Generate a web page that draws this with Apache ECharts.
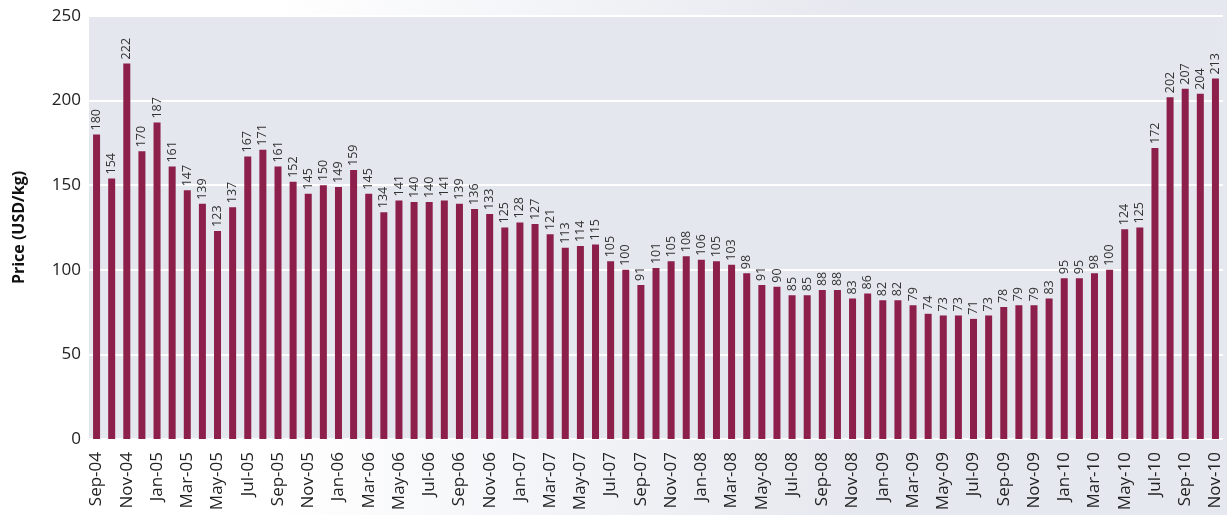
<!DOCTYPE html>
<html>
<head>
<meta charset="utf-8">
<script src="https://cdn.jsdelivr.net/npm/echarts@6/dist/echarts.min.js"></script>
<style>
  html, body { margin: 0; padding: 0; }
  body { background: linear-gradient(to right, #ffffff 22%, #e6e8ef 70%); }
  #chart { width: 1227px; height: 515px; }
</style>
</head>
<body>
<div id="chart"></div>
<script>
// Monthly prices, Sep-04 .. Nov-10
const months = [
  'Sep-04','Oct-04','Nov-04','Dec-04',
  'Jan-05','Feb-05','Mar-05','Apr-05','May-05','Jun-05','Jul-05','Aug-05','Sep-05','Oct-05','Nov-05','Dec-05',
  'Jan-06','Feb-06','Mar-06','Apr-06','May-06','Jun-06','Jul-06','Aug-06','Sep-06','Oct-06','Nov-06','Dec-06',
  'Jan-07','Feb-07','Mar-07','Apr-07','May-07','Jun-07','Jul-07','Aug-07','Sep-07','Oct-07','Nov-07','Dec-07',
  'Jan-08','Feb-08','Mar-08','Apr-08','May-08','Jun-08','Jul-08','Aug-08','Sep-08','Oct-08','Nov-08','Dec-08',
  'Jan-09','Feb-09','Mar-09','Apr-09','May-09','Jun-09','Jul-09','Aug-09','Sep-09','Oct-09','Nov-09','Dec-09',
  'Jan-10','Feb-10','Mar-10','Apr-10','May-10','Jun-10','Jul-10','Aug-10','Sep-10','Oct-10','Nov-10'
]
const prices = [
  180, 154, 222, 170,
  187, 161, 147, 139, 123, 137, 167, 171, 161, 152, 145, 150,
  149, 159, 145, 134, 141, 140, 140, 141, 139, 136, 133, 125,
  128, 127, 121, 113, 114, 115, 105, 100, 91, 101, 105, 108,
  106, 105, 103, 98, 91, 90, 85, 85, 88, 88, 83, 86,
  82, 82, 79, 74, 73, 73, 71, 73, 78, 79, 79, 83,
  95, 95, 98, 100, 124, 125, 172, 202, 207, 204, 213
]
const yTicks = { min: 0, max: 250, step: 50 }

const fontFamily = '"Open Sans", "Noto Sans", sans-serif'

const chart = echarts.init(document.getElementById('chart'))
chart.setOption({
  animation: false,
  grid: {
    left: 89,
    right: 4,
    top: 16,
    bottom: 76,
    show: true,
    backgroundColor: '#e4e7ee',
    borderWidth: 0
  },
  xAxis: {
    type: 'category',
    data: months,
    axisLine: { show: false },
    axisTick: { show: false },
    axisLabel: {
      interval: 1,
      rotate: 90,
      fontSize: 17,
      color: '#222',
      fontFamily,
      margin: 13
    }
  },
  yAxis: {
    type: 'value',
    min: yTicks.min,
    max: yTicks.max,
    interval: yTicks.step,
    name: 'Price (USD/kg)',
    nameLocation: 'middle',
    nameGap: 62,
    nameTextStyle: { fontSize: 16, fontWeight: 'bold', color: '#111', fontFamily },
    axisLine: { show: false },
    axisTick: { show: false },
    axisLabel: { fontSize: 17, color: '#222', fontFamily, margin: 8 },
    splitLine: { lineStyle: { color: '#ffffff', width: 2 } }
  },
  series: [{
    type: 'bar',
    data: prices,
    barWidth: 7,
    itemStyle: { color: '#8d1f4b' },
    label: {
      show: true,
      position: 'top',
      rotate: 90,
      align: 'left',
      verticalAlign: 'middle',
      distance: 4,
      fontSize: 12.5,
      color: '#333',
      fontFamily
    }
  }]
})
</script>
</body>
</html>
